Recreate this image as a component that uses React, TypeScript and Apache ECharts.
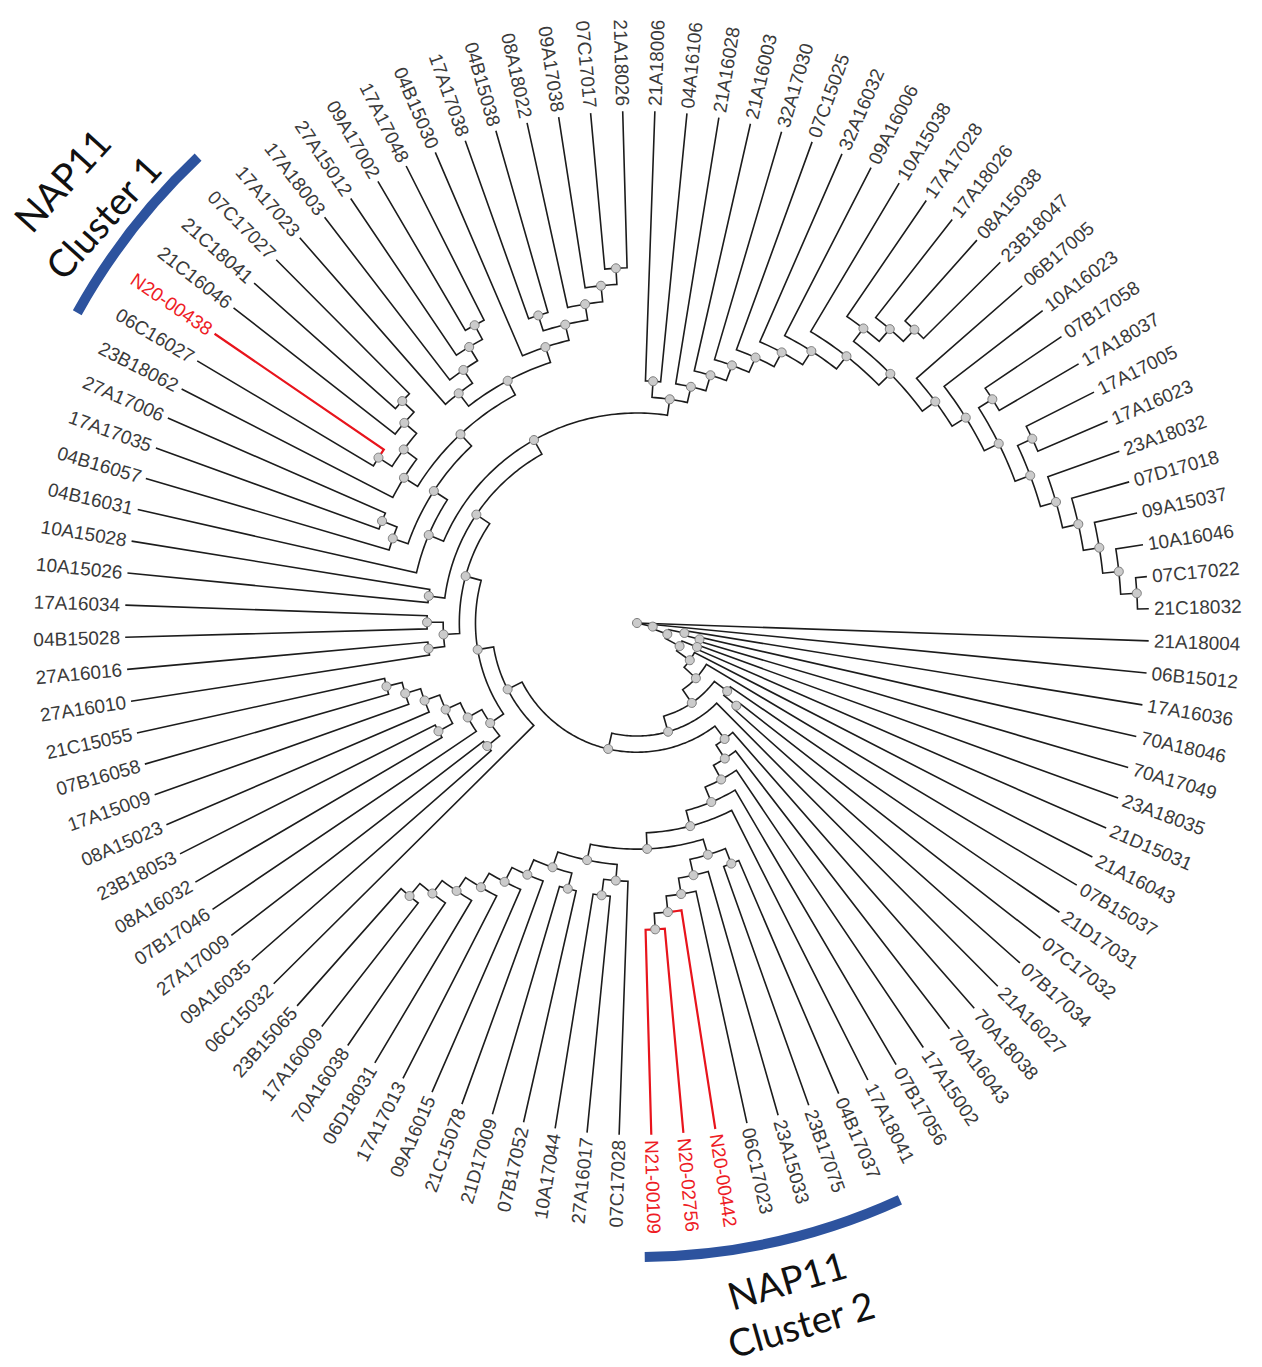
import React, { useEffect, useRef } from 'react';
import * as echarts from 'echarts';

// Leaf labels in clockwise order, starting at the leaf just below 3 o'clock
const leafOrder: string[] = [
  '21A18004','06B15012','17A16036','70A18046','70A17049','23A18035','21D15031','21A16043','07B15037','21D17031',
  '07C17032','07B17034','21A16027','70A18038','70A16043','17A15002','07B17056','17A18041','04B17037','23B17075',
  '23A15033','06C17023','N20-00442','N20-02756','N21-00109','07C17028','27A16017','10A17044','07B17052','21D17009',
  '21C15078','09A16015','17A17013','06D18031','70A16038','17A16009','23B15065','06C15032','09A16035','27A17009',
  '07B17046','08A16032','23B18053','08A15023','17A15009','07B16058','21C15055','27A16010','27A16016','04B15028',
  '17A16034','10A15026','10A15028','04B16031','04B16057','17A17035','27A17006','23B18062','06C16027','N20-00438',
  '21C16046','21C18041','07C17027','17A17023','17A18003','27A15012','09A17002','17A17048','04B15030','17A17038',
  '04B15038','08A18022','09A17038','07C17017','21A18026','21A18006','04A16106','21A16028','21A16003','32A17030',
  '07C15025','32A16032','09A16006','10A15038','17A17028','17A18026','08A15038','23B18047','06B17005','10A16023',
  '07B17058','17A18037','17A17005','17A16023','23A18032','07D17018','09A15037','10A16046','07C17022','21C18032',
];

const highlightedLeaves: string[] = ['N20-00438', 'N20-00442', 'N20-02756', 'N21-00109'];

// Tree topology (Newick), split into clades
const cladeTopRightTail = '(23A18032,(07D17018,(09A15037,(10A16046,(07C17022,21C18032)))))';
const cladeTopRightD25 = `((07B17058,17A18037),((17A17005,17A16023),${cladeTopRightTail}))`;
const cladeTopRightD22 = `((17A17028,(17A18026,(08A15038,23B18047))),(06B17005,(10A16023,${cladeTopRightD25})))`;
const cladeTopRight = `((21A18006,04A16106),(21A16028,(21A16003,(32A17030,(07C15025,(32A16032,(09A16006,(10A15038,${cladeTopRightD22}))))))))`;
const cladeUpperLeftA = '(23B18062,((06C16027,N20-00438),(21C16046,(21C18041,07C17027))))';
const cladeUpperLeftB = '((17A17023,(17A18003,(27A15012,(09A17002,17A17048)))),(04B15030,((17A17038,04B15038),(08A18022,(09A17038,(07C17017,21A18026))))))';
const cladeUpperLeft = `(04B16031,((04B16057,(17A17035,27A17006)),(${cladeUpperLeftA},${cladeUpperLeftB})))`;
const cladeLeft = `(((27A16010,27A16016),(04B15028,17A16034)),((10A15026,10A15028),(${cladeUpperLeft},${cladeTopRight})))`;
const cladeLowerLeft = '((09A16035,27A17009),(07B17046,((08A16032,23B18053),(08A15023,(17A15009,(07B16058,21C15055))))))';
const cladeCluster2 = '((04B17037,23B17075),(23A15033,(06C17023,(N20-00442,(N20-02756,N21-00109)))))';
const cladeBottom = '((07C17028,(27A16017,10A17044)),((07B17052,21D17009),(21C15078,(09A16015,(17A17013,(06D18031,(70A16038,(17A16009,23B15065))))))))';
const cladeBottomRight = `(70A18038,(70A16043,(17A15002,(07B17056,(17A18041,(${cladeCluster2},${cladeBottom}))))))`;
const cladeWest = `(06C15032,(${cladeLowerLeft},${cladeLeft}))`;
const treeNewick = `(21A18004,(06B15012,((17A16036,(70A18046,70A17049)),((23A18035,21D15031),(21A16043,(07B15037,((21D17031,(07C17032,07B17034)),(21A16027,(${cladeBottomRight},${cladeWest})))))))))`;

const LEAF_DEPTH = 31.7;

type TNode = { name?: string; children: TNode[]; depth: number; angle: number };

function parseNewick(s: string): TNode {
  let i = 0;
  const node = (): TNode => {
    if (s[i] === '(') {
      i++;
      const children: TNode[] = [node()];
      while (s[i] === ',') {
        i++;
        children.push(node());
      }
      i++;
      return { children, depth: 0, angle: 0 };
    }
    let name = '';
    while (i < s.length && ',()'.indexOf(s[i]) < 0) name += s[i++];
    return { name: name.trim(), children: [], depth: 0, angle: 0 };
  };
  return node();
}

function layoutTree(n: TNode, depth: number) {
  n.depth = depth;
  if (!n.children.length) {
    n.angle = leafOrder.indexOf(n.name as string);
    return;
  }
  let s = 0;
  n.children.forEach((c) => {
    layoutTree(c, depth + 1);
    s += c.angle;
  });
  n.angle = s / n.children.length;
}

function buildData() {
  const root = parseNewick(treeNewick);
  layoutTree(root, 0);
  const blackEdges: number[][] = [];
  const redEdges: number[][] = [];
  const nodes: number[][] = [];
  const walk = (n: TNode) => {
    if (!n.children.length) return;
    nodes.push([n.depth, n.angle]);
    n.children.forEach((c) => {
      const isLeaf = !c.children.length;
      const cr = isLeaf ? LEAF_DEPTH : c.depth;
      const item = [n.depth, n.angle, cr, c.angle];
      if (isLeaf && highlightedLeaves.indexOf(c.name as string) >= 0) redEdges.push(item);
      else blackEdges.push(item);
      walk(c);
    });
  };
  walk(root);
  return { blackEdges, redEdges, nodes };
}

const makeEdgeRenderer = (color: string, width: number) => (params: any, api: any) => {
  const pr = api.value(0);
  const pa = api.value(1);
  const cr = api.value(2);
  const ca = api.value(3);
  const steps = Math.max(1, Math.ceil(Math.abs(ca - pa) * 4));
  const pts: number[][] = [];
  for (let k = 0; k <= steps; k++) pts.push(api.coord([pr, pa + ((ca - pa) * k) / steps]));
  pts.push(api.coord([cr, ca]));
  return {
    type: 'polyline',
    shape: { points: pts },
    style: { stroke: color, lineWidth: width, fill: null, lineJoin: 'miter' },
  };
};

const renderLabel = (params: any, api: any) => {
  const idx = api.value(1);
  const name = leafOrder[idx];
  const c = api.coord([0, idx]);
  const p = api.coord([LEAF_DEPTH + 0.32, idx]);
  const dx = p[0] - c[0];
  const dy = p[1] - c[1];
  const theta = Math.atan2(-dy, dx);
  const right = dx >= -0.001;
  const red = highlightedLeaves.indexOf(name) >= 0;
  return {
    type: 'text',
    x: p[0],
    y: p[1],
    rotation: right ? theta : theta + Math.PI,
    style: {
      text: name,
      fill: red ? '#ee1c25' : '#3a3a3a',
      font: "19px 'Liberation Sans', Arial, sans-serif",
      align: right ? 'left' : 'right',
      verticalAlign: 'middle',
    },
  };
};

const CX = 637;
const CY = 623;
const deg = Math.PI / 180;

export default function App() {
  const ref = useRef<HTMLDivElement>(null);
  useEffect(() => {
    if (!ref.current) return;
    const chart = echarts.init(ref.current, undefined, { renderer: 'svg' });
    const { blackEdges, redEdges, nodes } = buildData();
    const labelData = leafOrder.map((_, k) => [LEAF_DEPTH, k]);
    const annotFont = "38px Lato, 'Open Sans', sans-serif";
    chart.setOption({
      animation: false,
      backgroundColor: '#ffffff',
      polar: { center: [CX, CY], radius: 512 },
      angleAxis: {
        type: 'value', min: 0, max: 100, startAngle: 358, clockwise: true,
        show: false, axisLine: { show: false }, axisTick: { show: false }, axisLabel: { show: false }, splitLine: { show: false },
      },
      radiusAxis: {
        type: 'value', min: 0, max: LEAF_DEPTH,
        show: false, axisLine: { show: false }, axisTick: { show: false }, axisLabel: { show: false }, splitLine: { show: false },
      },
      series: [
        {
          type: 'custom', coordinateSystem: 'polar', renderItem: makeEdgeRenderer('#1c1c1c', 1.6),
          data: blackEdges, encode: { radius: 0, angle: 1 }, z: 2, silent: true,
        },
        {
          type: 'custom', coordinateSystem: 'polar', renderItem: makeEdgeRenderer('#e8141c', 2.2),
          data: redEdges, encode: { radius: 0, angle: 1 }, z: 3, silent: true,
        },
        {
          type: 'scatter', coordinateSystem: 'polar', data: nodes, symbol: 'circle', symbolSize: 9,
          itemStyle: { color: '#cbcbcb', borderColor: '#7c7c7c', borderWidth: 1, opacity: 1 }, z: 4, silent: true,
        },
        {
          type: 'custom', coordinateSystem: 'polar', renderItem: renderLabel,
          data: labelData, encode: { radius: 0, angle: 1 }, z: 5, silent: true,
        },
      ],
      graphic: [
        {
          type: 'arc', shape: { cx: CX, cy: CY, r: 640, startAngle: -151 * deg, endAngle: -133.3 * deg, clockwise: true },
          style: { stroke: '#2d539e', lineWidth: 10, fill: 'none', lineCap: 'butt' }, z: 10,
        },
        {
          type: 'arc', shape: { cx: CX, cy: CY, r: 634, startAngle: 65.5 * deg, endAngle: 89.3 * deg, clockwise: true },
          style: { stroke: '#2d539e', lineWidth: 10, fill: 'none', lineCap: 'butt' }, z: 10,
        },
        {
          type: 'text', x: 62, y: 180, rotation: 48 * deg,
          style: { text: 'NAP11', font: annotFont, fill: '#111', align: 'center', verticalAlign: 'middle' }, z: 10,
        },
        {
          type: 'text', x: 103, y: 217, rotation: 48 * deg,
          style: { text: 'Cluster 1', font: annotFont, fill: '#111', align: 'center', verticalAlign: 'middle' }, z: 10,
        },
        {
          type: 'text', x: 787, y: 1280, rotation: 16 * deg,
          style: { text: 'NAP11', font: annotFont, fill: '#111', align: 'center', verticalAlign: 'middle' }, z: 10,
        },
        {
          type: 'text', x: 801, y: 1324, rotation: 16 * deg,
          style: { text: 'Cluster 2', font: annotFont, fill: '#111', align: 'center', verticalAlign: 'middle' }, z: 10,
        },
      ],
    });
    return () => chart.dispose();
  }, []);
  return <div ref={ref} style={{ position: 'absolute', left: 0, top: 0, width: 1262, height: 1367 }} />;
}
